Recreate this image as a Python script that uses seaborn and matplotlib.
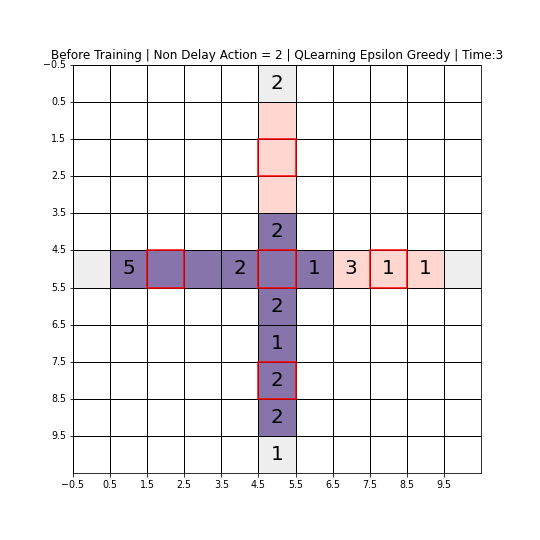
import numpy as np
import seaborn as sns
import matplotlib.pyplot as plt
from matplotlib.colors import ListedColormap
from matplotlib.patches import Rectangle

# cell states: 0 empty, 1 entry/exit, 2 queue, 3 road
rows = 11
cols = 11
vert_states = [1, 2, 2, 2, 3, 3, 3, 3, 3, 3, 1]   # column 5, top to bottom
horiz_states = [1, 3, 3, 3, 3, 3, 3, 2, 2, 2, 1]  # row 5, left to right
vert_labels = ['2', '', '', '', '2', '', '2', '1', '2', '2', '1']
horiz_labels = ['', '5', '', '', '2', '', '1', '3', '1', '1', '']
red_cells = [(2, 5), (5, 2), (5, 5), (5, 8), (8, 5)]  # (row, col)
tick_labels = ['\u22120.5', '0.5', '1.5', '2.5', '3.5', '4.5', '5.5', '6.5', '7.5', '8.5', '9.5']
state_colors = ['#ffffff', '#eeeeee', '#ffd6d0', '#8674aa']

grid = np.zeros((rows, cols))
labels = np.full((rows, cols), '', dtype=object)
grid[:, 5] = vert_states
labels[:, 5] = vert_labels
grid[5, :] = horiz_states
for c, t in enumerate(horiz_labels):
    if t:
        labels[5, c] = t

fig = plt.figure(figsize=(7.5, 7.5), dpi=72)
ax = fig.add_axes([73/540, 67/540, 408/540, 408/540])
sns.heatmap(grid, cmap=ListedColormap(state_colors), vmin=-0.5, vmax=3.5,
            annot=labels, fmt='', cbar=False, linewidths=0.8, linecolor='black',
            annot_kws={'size': 20, 'color': 'black'}, square=True, ax=ax)

for r, c in red_cells:
    ax.add_patch(Rectangle((c, r), 1, 1, fill=False, edgecolor='red', lw=1.5, zorder=3))

ax.set_xticks(range(len(tick_labels)))
ax.set_xticklabels(tick_labels, rotation=0)
ax.set_yticks(range(len(tick_labels)))
ax.set_yticklabels(tick_labels, rotation=0)
ax.tick_params(length=3.5, width=0.8, labelsize=9.5, color='black')
for s in ax.spines.values():
    s.set_visible(True)
    s.set_color('black')
    s.set_linewidth(0.8)
ax.set_title('Before Training | Non Delay Action = 2 | QLearning Epsilon Greedy | Time:3', fontsize=12)
plt.savefig('out.png', dpi=72)
